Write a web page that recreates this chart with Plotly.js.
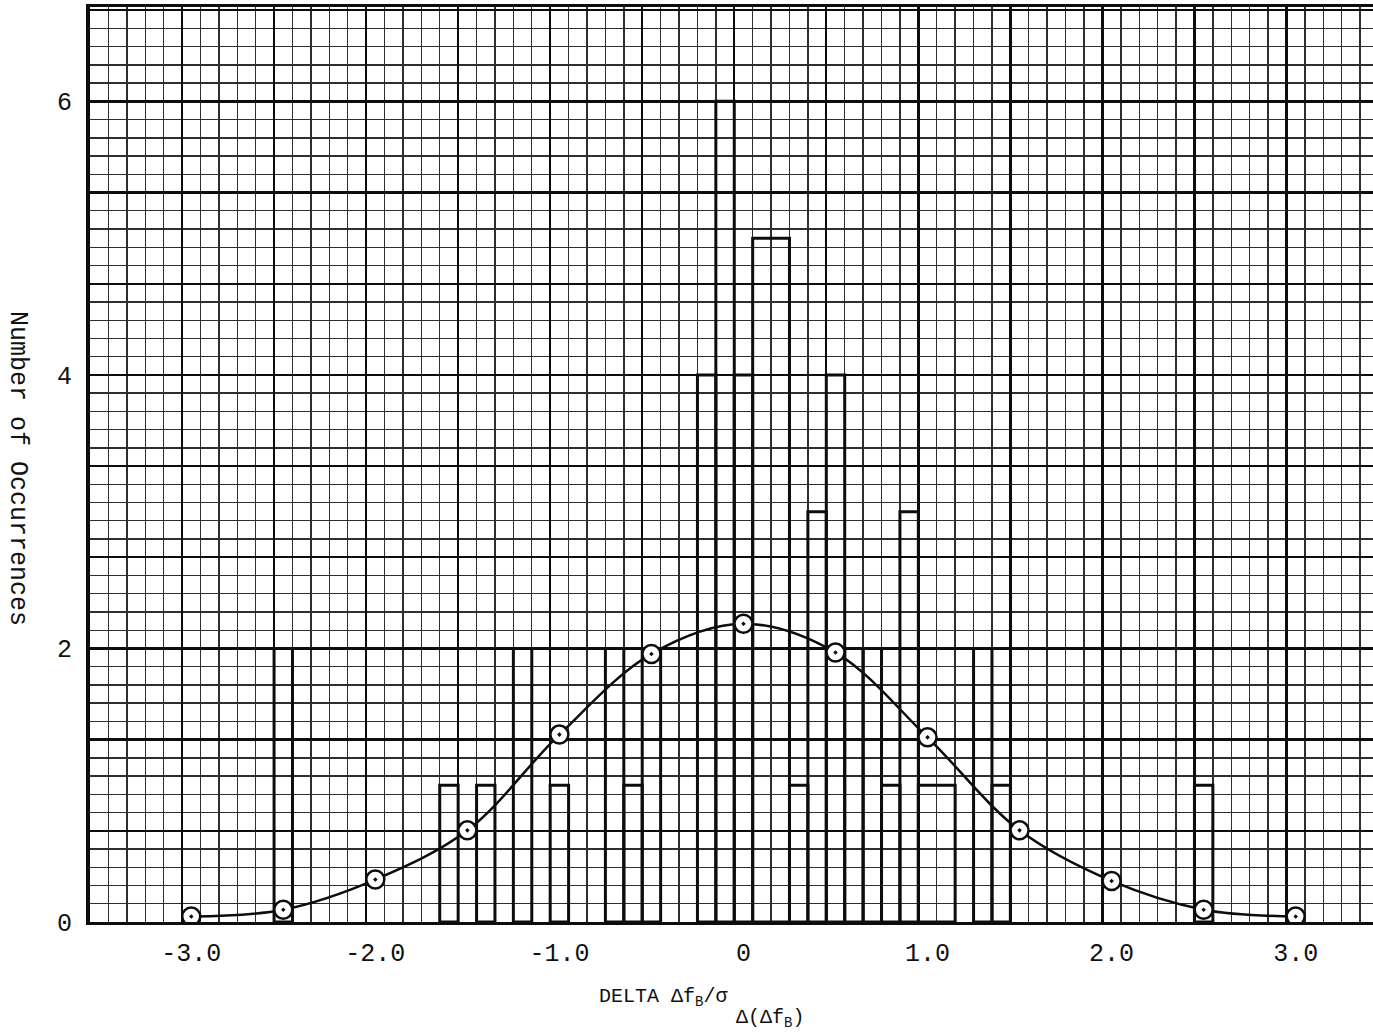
<!DOCTYPE html>
<html>
<head>
<meta charset="utf-8">
<script src="https://cdn.plot.ly/plotly-3.0.1.min.js"></script>
<style>
  html, body { margin: 0; padding: 0; background: #ffffff; }
  #chart { width: 1373px; height: 1034px; }
</style>
</head>
<body>
<div id="chart"></div>
<script>
// Histogram bars as drawn: centre, width and number of occurrences
const binCenters = [-2.5, -1.6, -1.4, -1.2, -1.0, -0.7, -0.6, -0.5, -0.2, -0.1, 0.0, 0.15, 0.3, 0.4, 0.5, 0.6, 0.7, 0.8, 0.9, 1.05, 1.3, 1.4, 2.5];
const binWidths  = [0.1, 0.1, 0.1, 0.1, 0.1, 0.1, 0.1, 0.1, 0.1, 0.1, 0.1, 0.2, 0.1, 0.1, 0.1, 0.1, 0.1, 0.1, 0.1, 0.2, 0.1, 0.1, 0.1];
const binCounts  = [2, 1, 1, 2, 1, 2, 1, 2, 4, 6, 4, 5, 1, 3, 4, 2, 2, 1, 3, 1, 2, 1, 1];

// Fitted normal curve points (circled points)
const curveX = [-3.0, -2.5, -2.0, -1.5, -1.0, -0.5, 0.0, 0.5, 1.0, 1.5, 2.0, 2.5, 3.0];
const curveY = [0.04, 0.09, 0.31, 0.67, 1.37, 1.96, 2.18, 1.97, 1.35, 0.67, 0.30, 0.09, 0.04];

// Tick labels
const xTickVals = [-3, -2, -1, 0, 1, 2, 3];
const xTickText = ['-3.0', '-2.0', '-1.0', '0', '1.0', '2.0', '3.0'];
const yTickVals = [0, 2, 4, 6];
const yTickText = ['0', '2', '4', '6'];

const xRange = [-3.55, 3.42];
const yRange = [0, 6.69];

const monoFont = '"Liberation Mono", "Courier New", "DejaVu Sans Mono", monospace';

function gridAxis(overlay, anchor, range, tick0, dtick, color, width) {
  return {
    overlaying: overlay, anchor: anchor, range: range,
    tickmode: 'linear', tick0: tick0, dtick: dtick,
    showticklabels: false, ticks: '',
    showgrid: true, gridcolor: color, gridwidth: width,
    zeroline: false, showline: false
  };
}

const traces = [
  { // invisible carrier for the fine graph-paper grid
    x: [0], y: [0], xaxis: 'x2', yaxis: 'y2', type: 'scatter', mode: 'markers',
    marker: { opacity: 0 }, hoverinfo: 'skip', showlegend: false
  },
  { // invisible carrier for the heavy graph-paper grid
    x: [0], y: [0], xaxis: 'x3', yaxis: 'y3', type: 'scatter', mode: 'markers',
    marker: { opacity: 0 }, hoverinfo: 'skip', showlegend: false
  },
  {
    type: 'bar',
    x: binCenters,
    y: binCounts,
    width: binWidths,
    marker: { color: 'rgba(0,0,0,0)', line: { color: '#0d0d0d', width: 3 } },
    showlegend: false
  },
  {
    type: 'scatter',
    mode: 'lines+markers',
    x: curveX,
    y: curveY,
    line: { color: '#0d0d0d', width: 2.5, shape: 'spline', smoothing: 1 },
    marker: { symbol: 'circle-dot', size: 18, color: '#ffffff', line: { color: '#0d0d0d', width: 2.5 } },
    showlegend: false
  }
];

const layout = {
  width: 1373,
  height: 1034,
  margin: { l: 90, r: 0, t: 7, b: 112 },
  paper_bgcolor: '#ffffff',
  plot_bgcolor: '#ffffff',
  showlegend: false,
  bargap: 0,
  xaxis: {
    range: xRange, tickmode: 'array', tickvals: xTickVals, ticktext: xTickText,
    showgrid: false, zeroline: false, showline: true, linecolor: '#0d0d0d', linewidth: 3, mirror: true,
    ticks: '', ticklabelstandoff: 6,
    tickfont: { family: monoFont, size: 25, color: '#111111' }
  },
  yaxis: {
    range: yRange, tickmode: 'array', tickvals: yTickVals, ticktext: yTickText,
    showgrid: false, zeroline: false, showline: true, linecolor: '#0d0d0d', linewidth: 4,
    ticks: '', ticklabelstandoff: 9,
    tickfont: { family: monoFont, size: 25, color: '#111111' }
  },
  xaxis2: gridAxis('x', 'y2', xRange, -0.05, 0.1, '#2e2e2e', 1.4),
  yaxis2: gridAxis('y', 'x2', yRange, 0, 2 / 15, '#2e2e2e', 1.4),
  xaxis3: gridAxis('x', 'y3', xRange, -0.05, 0.5, '#0d0d0d', 2.4),
  yaxis3: gridAxis('y', 'x3', yRange, 0, 2 / 3, '#0d0d0d', 2.4),
  annotations: [
    {
      text: 'Number of Occurrences',
      xref: 'paper', yref: 'paper', x: -0.056, y: 0.496,
      xanchor: 'center', yanchor: 'middle', textangle: 90, showarrow: false,
      font: { family: monoFont, size: 25, color: '#111111' }
    },
    {
      text: 'DELTA Δf<sub>B</sub>/σ',
      xref: 'paper', yref: 'paper', x: 0.395, y: -0.067,
      xanchor: 'left', yanchor: 'top', showarrow: false,
      font: { family: monoFont, size: 20, color: '#111111' }
    },
    {
      text: 'Δ(Δf<sub>B</sub>)',
      xref: 'paper', yref: 'paper', x: 0.502, y: -0.09,
      xanchor: 'left', yanchor: 'top', showarrow: false,
      font: { family: monoFont, size: 20, color: '#111111' }
    }
  ]
};

Plotly.newPlot('chart', traces, layout, { displayModeBar: false, staticPlot: true });
</script>
</body>
</html>
